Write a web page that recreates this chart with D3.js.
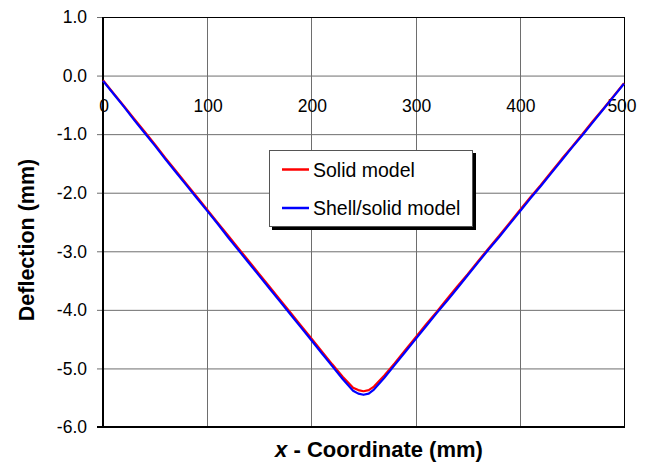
<!DOCTYPE html>
<html><head><meta charset="utf-8">
<script src="https://cdn.jsdelivr.net/npm/d3@7"></script>
<style>body{margin:0;background:#fff}svg{display:block}text{font-family:"Liberation Sans",Arial,sans-serif}</style>
</head><body><svg id="c" width="651" height="462"></svg>
<script>
const xValues = [0,10,20,30,40,50,60,70,80,90,100,110,120,130,140,150,160,170,180,190,200,210,220,230,240,245,250,255,260,270,280,290,300,310,320,330,340,350,360,370,380,390,400,410,420,430,440,450,460,470,480,490,500];
const shellSolid = [-0.09,-0.31,-0.53,-0.76,-0.98,-1.20,-1.43,-1.65,-1.87,-2.09,-2.31,-2.53,-2.76,-2.98,-3.20,-3.42,-3.64,-3.86,-4.08,-4.30,-4.52,-4.74,-4.96,-5.18,-5.38,-5.43,-5.45,-5.43,-5.36,-5.16,-4.94,-4.72,-4.50,-4.28,-4.06,-3.85,-3.63,-3.41,-3.19,-2.97,-2.76,-2.54,-2.32,-2.10,-1.89,-1.67,-1.45,-1.23,-1.02,-0.80,-0.58,-0.36,-0.14];
const solid = [-0.08,-0.30,-0.52,-0.74,-0.96,-1.18,-1.41,-1.63,-1.85,-2.07,-2.29,-2.51,-2.73,-2.95,-3.17,-3.39,-3.61,-3.83,-4.05,-4.27,-4.49,-4.71,-4.93,-5.14,-5.33,-5.37,-5.39,-5.37,-5.31,-5.12,-4.91,-4.69,-4.47,-4.25,-4.04,-3.82,-3.60,-3.39,-3.17,-2.95,-2.74,-2.52,-2.30,-2.08,-1.87,-1.65,-1.43,-1.22,-1.00,-0.78,-0.57,-0.35,-0.13];
const xTicks = [0,100,200,300,400,500];
const yTicks = [1,0,-1,-2,-3,-4,-5,-6];
const seriesNames = ["Solid model","Shell/solid model"];
const seriesColors = ["#ff0000","#0000ff"];

const svg = d3.select("#c");
const L=103, R=624, T=17, B=427;
const x = d3.scaleLinear().domain([0,500]).range([L,R]);
const y = d3.scaleLinear().domain([1,-6]).range([T,B]);

// gridlines
svg.append("g").selectAll("line").data(yTicks).join("line")
  .attr("x1",L-6).attr("x2",R).attr("y1",d=>y(d)+0.5).attr("y2",d=>y(d)+0.5)
  .attr("stroke","#6e6e6e").attr("stroke-width",1);
svg.append("g").selectAll("line").data(xTicks.filter(d=>d>0&&d<500)).join("line")
  .attr("x1",d=>Math.round(x(d))+0.5).attr("x2",d=>Math.round(x(d))+0.5).attr("y1",T).attr("y2",B)
  .attr("stroke","#6e6e6e").attr("stroke-width",1);

// frame
svg.append("rect").attr("x",L+0.5).attr("y",T+0.5).attr("width",R-L).attr("height",B-T)
  .attr("fill","none").attr("stroke","#000").attr("stroke-width",1);
svg.append("line").attr("x1",L).attr("x2",L).attr("y1",T).attr("y2",B+1).attr("stroke","#000").attr("stroke-width",2);
svg.append("line").attr("x1",L-6).attr("x2",R+1).attr("y1",B).attr("y2",B).attr("stroke","#000").attr("stroke-width",2);

// y tick labels
svg.append("g").selectAll("text").data(yTicks).join("text")
  .attr("x",87).attr("y",d=>y(d)).attr("dy","0.36em").attr("text-anchor","end")
  .attr("font-size",17.5).attr("fill","#000").text(d=>d.toFixed(1));
// x tick labels
svg.append("g").selectAll("text").data(xTicks).join("text")
  .attr("x",d=>x(d)+ (d===500?-2:1)).attr("y",112).attr("text-anchor","middle")
  .attr("font-size",17.5).attr("fill","#000").text(d=>d);

// lines
const line = d3.line().x((d,i)=>x(xValues[i])).y(d=>y(d));
[solid, shellSolid].forEach((s,i)=>{
  svg.append("path").attr("d",line(s)).attr("fill","none")
    .attr("stroke",seriesColors[i]).attr("stroke-width",2.2).attr("stroke-linejoin","round");
});

// legend
const lg = svg.append("g");
lg.append("rect").attr("x",272).attr("y",153).attr("width",204).attr("height",77).attr("fill","#000");
lg.append("rect").attr("x",269.5).attr("y",150.5).attr("width",203).attr("height",76).attr("fill","#fff").attr("stroke","#555").attr("stroke-width",1);
seriesNames.forEach((n,i)=>{
  const yy = 169.5 + i*38.5;
  lg.append("line").attr("x1",282).attr("x2",309).attr("y1",yy).attr("y2",yy).attr("stroke",seriesColors[i]).attr("stroke-width",2.5);
  lg.append("text").attr("x",313).attr("y",yy).attr("dy","0.36em").attr("font-size",19.5).attr("fill","#000").text(n);
});

// axis titles
svg.append("text").attr("transform","translate(34,240) rotate(-90)").attr("text-anchor","middle")
  .attr("font-size",21.5).attr("font-weight","bold").attr("fill","#000").text("Deflection (mm)");
const xt = svg.append("text").attr("x",379).attr("y",457).attr("text-anchor","middle")
  .attr("font-size",22).attr("font-weight","bold").attr("fill","#000");
xt.append("tspan").attr("font-style","italic").text("x");
xt.append("tspan").text("  - Coordinate (mm)");
</script></body></html>
